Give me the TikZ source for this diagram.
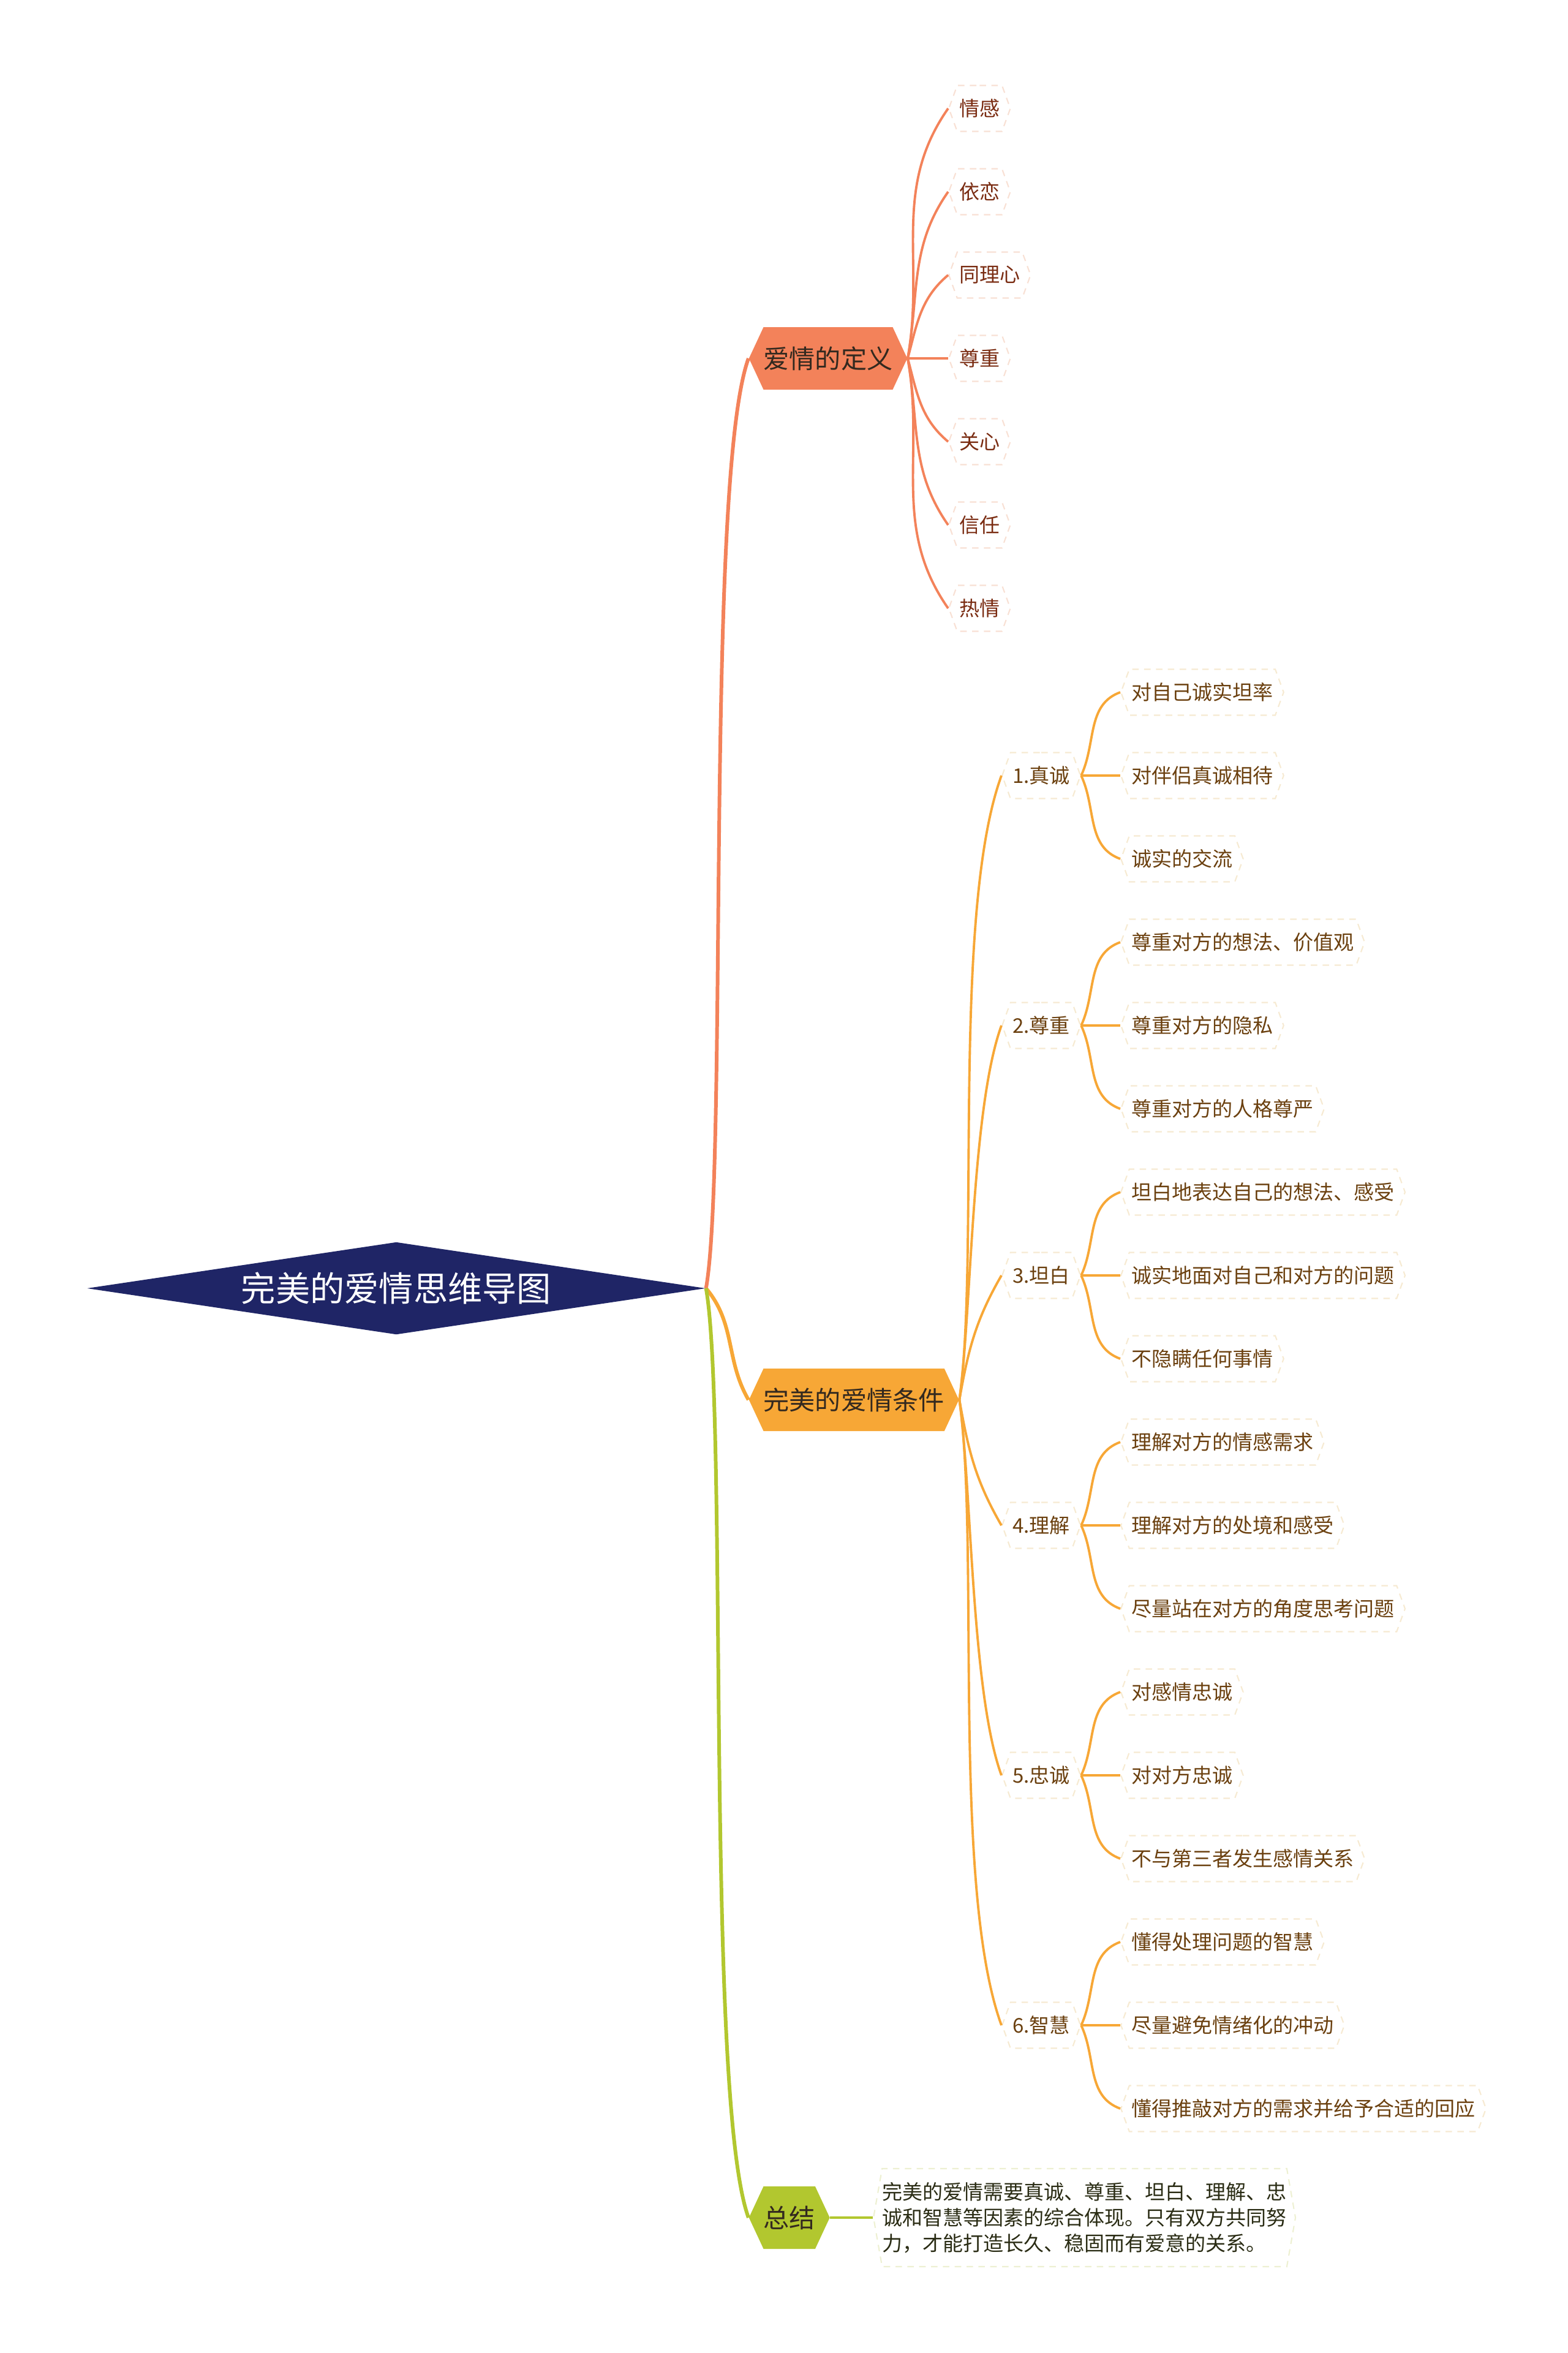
\documentclass[tikz,border=0pt]{standalone}
\usepackage{fontspec}
\newfontfamily\cjk{Noto Sans CJK SC}
\usepackage{tikz}
\usetikzlibrary{shapes,positioning}
\definecolor{rootblue}{HTML}{1F2566}
\definecolor{defline}{HTML}{F3825A}
\definecolor{condline}{HTML}{F7A736}
\definecolor{sumline}{HTML}{B2C72F}
\definecolor{deftext}{HTML}{7A2C12}
\definecolor{condtext}{HTML}{6B400F}
\definecolor{sumtext}{HTML}{2A2C14}
\definecolor{branchtext}{HTML}{33291F}
\definecolor{defdash}{HTML}{F8E0D4}
\definecolor{conddash}{HTML}{F6EAD2}
\definecolor{sumdash}{HTML}{EDF0D2}

\begin{document}
\begin{tikzpicture}[
  rootnode/.style={diamond, aspect=6.69, fill=rootblue, text=white,
    minimum width=10.1cm, minimum height=1.51cm, inner sep=0pt,
    font=\cjk\fontsize{16pt}{18pt}\selectfont},
  branch/.style={signal, signal to=east and west, signal pointer angle=130,
    minimum height=1.02cm, inner xsep=0pt, inner ysep=0pt, text=branchtext,
    anchor=west, font=\cjk\fontsize{12pt}{14pt}\selectfont},
  leaf/.style={signal, signal to=east and west, signal pointer angle=140,
    minimum height=0.75cm, inner xsep=1pt, inner ysep=0pt, draw,
    dash pattern=on 3pt off 2.5pt, line width=0.6pt, anchor=west,
    font=\cjk\fontsize{9.4pt}{11.9pt}\selectfont},
  defleaf/.style={leaf, draw=defdash, text=deftext},
  condleaf/.style={leaf, draw=conddash, text=condtext},
  trunk/.style={line width=1.7pt},
  twig/.style={line width=1.1pt}
]
  \useasboundingbox (0,0) rectangle (25.6,-38.41);

  \node[rootnode] (root) at (6.47,-21.03) {完美的爱情思维导图};
  \node[branch, fill=defline] (def) at (12.22,-5.85) {爱情的定义};
  \node[branch, fill=condline] (cond) at (12.22,-22.85) {完美的爱情条件};
  \node[branch, fill=sumline] (sum) at (12.22,-36.2) {总结};

  \node[defleaf] (d1) at (15.48,-1.77) {情感};
  \node[defleaf] (d2) at (15.48,-3.13) {依恋};
  \node[defleaf] (d3) at (15.48,-4.49) {同理心};
  \node[defleaf] (d4) at (15.48,-5.85) {尊重};
  \node[defleaf] (d5) at (15.48,-7.21) {关心};
  \node[defleaf] (d6) at (15.48,-8.57) {信任};
  \node[defleaf] (d7) at (15.48,-9.93) {热情};

  \node[condleaf] (c1) at (16.35,-12.66) {1.真诚};
  \node[condleaf] (c2) at (16.35,-16.74) {2.尊重};
  \node[condleaf] (c3) at (16.35,-20.82) {3.坦白};
  \node[condleaf] (c4) at (16.35,-24.90) {4.理解};
  \node[condleaf] (c5) at (16.35,-28.98) {5.忠诚};
  \node[condleaf] (c6) at (16.35,-33.06) {6.智慧};

  \node[condleaf] (c1a) at (18.29,-11.30) {对自己诚实坦率};
  \node[condleaf] (c1b) at (18.29,-12.66) {对伴侣真诚相待};
  \node[condleaf] (c1c) at (18.29,-14.02) {诚实的交流};
  \node[condleaf] (c2a) at (18.29,-15.38) {尊重对方的想法、价值观};
  \node[condleaf] (c2b) at (18.29,-16.74) {尊重对方的隐私};
  \node[condleaf] (c2c) at (18.29,-18.10) {尊重对方的人格尊严};
  \node[condleaf] (c3a) at (18.29,-19.46) {坦白地表达自己的想法、感受};
  \node[condleaf] (c3b) at (18.29,-20.82) {诚实地面对自己和对方的问题};
  \node[condleaf] (c3c) at (18.29,-22.18) {不隐瞒任何事情};
  \node[condleaf] (c4a) at (18.29,-23.54) {理解对方的情感需求};
  \node[condleaf] (c4b) at (18.29,-24.90) {理解对方的处境和感受};
  \node[condleaf] (c4c) at (18.29,-26.26) {尽量站在对方的角度思考问题};
  \node[condleaf] (c5a) at (18.29,-27.62) {对感情忠诚};
  \node[condleaf] (c5b) at (18.29,-28.98) {对对方忠诚};
  \node[condleaf] (c5c) at (18.29,-30.34) {不与第三者发生感情关系};
  \node[condleaf] (c6a) at (18.29,-31.70) {懂得处理问题的智慧};
  \node[condleaf] (c6b) at (18.29,-33.06) {尽量避免情绪化的冲动};
  \node[condleaf] (c6c) at (18.29,-34.42) {懂得推敲对方的需求并给予合适的回应};

  \node[leaf, draw=sumdash, text=sumtext, signal pointer angle=160,
        minimum height=1.6cm, inner xsep=0pt, align=left] (sumtxt) at (14.25,-36.2)
    {完美的爱情需要真诚、尊重、坦白、理解、忠\\诚和智慧等因素的综合体现。只有双方共同努\\力，才能打造长久、稳固而有爱意的关系。};

  \draw[trunk, defline] (root.east) to[out=80, in=250, looseness=0.35] (def.west);
  \draw[trunk, condline] (root.east) to[out=-50, in=120] (cond.west);
  \draw[trunk, sumline] (root.east) to[out=-80, in=110, looseness=0.35] (sum.west);

  \draw[twig, defline] (def.east) to[out=80, in=235] (d1.west);
  \draw[twig, defline] (def.east) to[out=80, in=235] (d2.west);
  \draw[twig, defline] (def.east) to[out=75, in=220] (d3.west);
  \draw[twig, defline] (def.east) -- (d4.west);
  \draw[twig, defline] (def.east) to[out=-75, in=140] (d5.west);
  \draw[twig, defline] (def.east) to[out=-80, in=125] (d6.west);
  \draw[twig, defline] (def.east) to[out=-80, in=125] (d7.west);

  \draw[twig, condline] (cond.east) to[out=82, in=250, looseness=0.6] (c1.west);
  \draw[twig, condline] (cond.east) to[out=82, in=250, looseness=0.6] (c2.west);
  \draw[twig, condline] (cond.east) to[out=80, in=240] (c3.west);
  \draw[twig, condline] (cond.east) to[out=-80, in=120] (c4.west);
  \draw[twig, condline] (cond.east) to[out=-82, in=110, looseness=0.6] (c5.west);
  \draw[twig, condline] (cond.east) to[out=-82, in=110, looseness=0.6] (c6.west);

  \draw[twig, condline] (c1.east) to[out=65, in=200] (c1a.west);
  \draw[twig, condline] (c1.east) -- (c1b.west);
  \draw[twig, condline] (c1.east) to[out=-65, in=160] (c1c.west);
  \draw[twig, condline] (c2.east) to[out=65, in=200] (c2a.west);
  \draw[twig, condline] (c2.east) -- (c2b.west);
  \draw[twig, condline] (c2.east) to[out=-65, in=160] (c2c.west);
  \draw[twig, condline] (c3.east) to[out=65, in=200] (c3a.west);
  \draw[twig, condline] (c3.east) -- (c3b.west);
  \draw[twig, condline] (c3.east) to[out=-65, in=160] (c3c.west);
  \draw[twig, condline] (c4.east) to[out=65, in=200] (c4a.west);
  \draw[twig, condline] (c4.east) -- (c4b.west);
  \draw[twig, condline] (c4.east) to[out=-65, in=160] (c4c.west);
  \draw[twig, condline] (c5.east) to[out=65, in=200] (c5a.west);
  \draw[twig, condline] (c5.east) -- (c5b.west);
  \draw[twig, condline] (c5.east) to[out=-65, in=160] (c5c.west);
  \draw[twig, condline] (c6.east) to[out=65, in=200] (c6a.west);
  \draw[twig, condline] (c6.east) -- (c6b.west);
  \draw[twig, condline] (c6.east) to[out=-65, in=160] (c6c.west);

  \draw[twig, sumline] (sum.east) -- (sumtxt.west);
\end{tikzpicture}
\end{document}
